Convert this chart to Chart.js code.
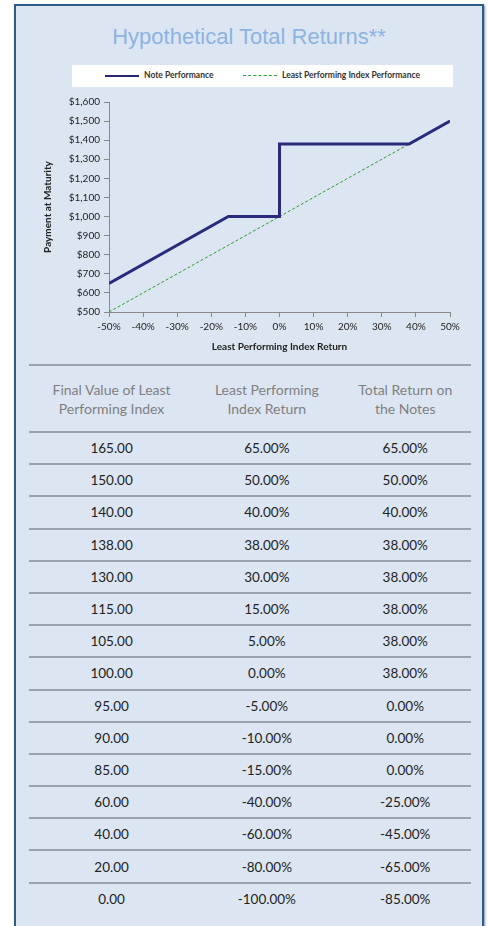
<!DOCTYPE html>
<html>
<head>
<meta charset="utf-8">
<script src="https://cdn.jsdelivr.net/npm/chart.js@4.4.0/dist/chart.umd.min.js"></script>
<style>
  html, body { margin: 0; padding: 0; background: #fff; overflow: hidden; }
  body { width: 489px; height: 926px; position: relative; font-family: Lato, "Open Sans", sans-serif; }
  #frame {
    position: absolute; left: 14px; top: 4px; width: 466px; height: 940px;
    background: #dce6f2; border: 2px solid #2f5b8c; box-shadow: 1px 1px 2px #7a8fa8;
  }
  #title {
    position: absolute; left: 16px; top: 24px; width: 466px; text-align: center;
    font-family: Arial, "Liberation Sans", sans-serif; font-size: 22px; color: #8db3e2;
  }
  #legend {
    position: absolute; left: 72px; top: 65px; width: 381px; height: 22px; background: #fff;
    font-family: Lato, sans-serif; font-size: 8.5px; color: #333; font-weight: bold;
  }
  .lg { position: absolute; top: 5px; white-space: nowrap; }
  .sw { display: inline-block; vertical-align: middle; width: 34px; margin-right: 5px; }
  #chartBox { position: absolute; left: 20px; top: 92px; width: 450px; height: 270px; }
  table { position: absolute; left: 29px; top: 364px; width: 442px; border-collapse: collapse; }
  td, th { text-align: center; padding: 0; }
  th { font-weight: normal; font-size: 14px; color: #7f7f7f; height: 65px; line-height: 19px; border-top: 2px solid #9aa3ad; border-bottom: 2px solid #9aa3ad; }
  td { color: #222; font-size: 13.5px; height: 30.2px; border-bottom: 2px solid #9aa3ad; }
  tr:last-child td { border-bottom: none; }
</style>
</head>
<body>
<div id="frame"></div>
<div id="title">Hypothetical Total Returns**</div>
<div id="legend">
  <div class="lg" style="left:33px;"><span class="sw" style="border-top:2px solid #262673;"></span>Note Performance</div>
  <div class="lg" style="left:171px;"><span class="sw" style="border-top:1.5px dashed #2f9a2f;"></span>Least Performing Index Performance</div>
</div>
<div id="chartBox"><canvas id="chart" width="450" height="270"></canvas></div>
<table id="tbl"></table>
<script>
// chart data (index return %, payment $)
const noteX = [-50, -15, 0, 0, 38, 50];
const noteY = [650, 1000, 1000, 1380, 1380, 1500];
const indexX = [-50, 50];
const indexY = [500, 1500];

// table data
const headers = ["Final Value of Least<br>Performing Index", "Least Performing<br>Index Return", "Total Return on<br>the Notes"];
const finalValues = ["165.00", "150.00", "140.00", "138.00", "130.00", "115.00", "105.00", "100.00", "95.00", "90.00", "85.00", "60.00", "40.00", "20.00", "0.00"];
const indexReturns = ["65.00%", "50.00%", "40.00%", "38.00%", "30.00%", "15.00%", "5.00%", "0.00%", "-5.00%", "-10.00%", "-15.00%", "-40.00%", "-60.00%", "-80.00%", "-100.00%"];
const noteReturns = ["65.00%", "50.00%", "40.00%", "38.00%", "38.00%", "38.00%", "38.00%", "38.00%", "0.00%", "0.00%", "0.00%", "-25.00%", "-45.00%", "-65.00%", "-85.00%"];

const tbl = document.getElementById("tbl");
let html = "<tr>" + headers.map(h => "<th>" + h + "</th>").join("") + "</tr>";
finalValues.forEach((v, i) => {
  html += "<tr><td>" + v + "</td><td>" + indexReturns[i] + "</td><td>" + noteReturns[i] + "</td></tr>";
});
tbl.innerHTML = html;

const tickFont = { family: "Lato", size: 10 };
const titleFont = { family: "Lato", size: 10, weight: "bold" };

new Chart(document.getElementById("chart"), {
  type: "scatter",
  data: {
    datasets: [
      {
        label: "Note Performance",
        data: noteX.map((x, i) => ({ x: x, y: noteY[i] })),
        showLine: true, borderColor: "#2a2a7c", borderWidth: 3,
        pointRadius: 0, tension: 0
      },
      {
        label: "Least Performing Index Performance",
        data: indexX.map((x, i) => ({ x: x, y: indexY[i] })),
        showLine: true, borderColor: "#2f9a2f", borderWidth: 1, borderDash: [3, 2],
        pointRadius: 0
      }
    ]
  },
  options: {
    responsive: false,
    animation: false,
    layout: { padding: { left: 18, top: 10, right: 20, bottom: 5 } },
    plugins: { legend: { display: false }, tooltip: { enabled: false } },
    scales: {
      x: {
        type: "linear", min: -50, max: 50,
        ticks: { stepSize: 10, font: tickFont, color: "#222", padding: 4, callback: v => v + "%" },
        grid: { drawOnChartArea: false, tickLength: 5, color: "#888" },
        border: { color: "#888" },
        title: { display: true, text: "Least Performing Index Return", font: titleFont, color: "#222" },
        afterFit: s => { s.height = 45; }
      },
      y: {
        min: 500, max: 1600,
        ticks: { stepSize: 100, font: tickFont, color: "#222", padding: 4, callback: v => "$" + v.toLocaleString("en-US") },
        grid: { drawOnChartArea: false, tickLength: 5, color: "#888" },
        border: { color: "#888" },
        title: { display: true, text: "Payment at Maturity", font: titleFont, color: "#222" },
        afterFit: s => { s.width = 71; }
      }
    }
  }
});
</script>
</body>
</html>
